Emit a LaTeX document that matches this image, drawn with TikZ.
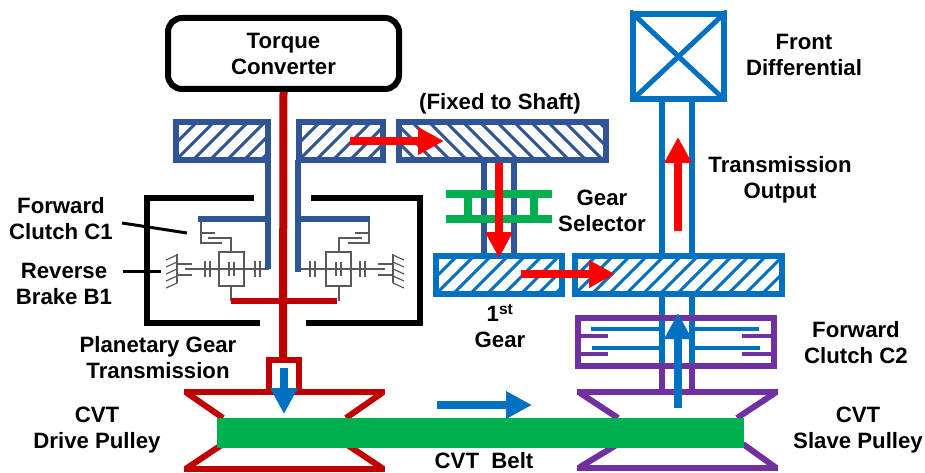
\documentclass[tikz,border=0pt]{standalone}
\usepackage{fontspec}
\setmainfont{Liberation Sans}
\usetikzlibrary{arrows.meta}
\definecolor{dkblue}{HTML}{2F5597}
\definecolor{ltblue}{HTML}{0070C0}
\definecolor{dkred}{HTML}{C00000}
\definecolor{belt}{HTML}{00B050}
\definecolor{purp}{HTML}{7030A0}
\definecolor{mechgray}{HTML}{595959}
\tikzset{
  x=1pt,y=-1pt,
  lab/.style={font=\fontsize{22.2}{26}\selectfont\bfseries,align=center,inner sep=0pt,text=black},
  lab one/.style={font=\fontsize{22.2}{26}\selectfont\bfseries,inner sep=0pt,text=black},
  thick line/.style={line width=6pt},
  bigarrow/.style={line width=8.5pt,-{Triangle[length=26pt,width=26pt]}},
  mech/.style={draw=mechgray,line width=1.6pt},
  pulley/.style={line width=6pt},
}
% x1 y1 x2 y2 colour direction(+1 rising right, -1 falling right)
\newcommand{\gearbox}[6]{%
  \begin{scope}
    \clip (#1,#2) rectangle (#3,#4);
    \foreach \k in {-4,...,14}{
      \draw[#5,line width=3pt] ({#1+\k*17},#4) -- ++({#6*(#4-#2)*1.0},{-(#4-#2)});
    }
  \end{scope}
  \draw[#5,thick line] (#1,#2) rectangle (#3,#4);
}
\newcommand{\planetary}{%
  \draw[mech] (201,219) -- (201,243) -- (222,243);
  \draw[mech] (201,233) -- (215,233);
  \draw[mech] (208,238) -- (231,238) -- (231,252);
  \draw[mech] (219,252) rectangle (244,286);
  \draw[mech] (231,286) -- (231,301);
  \draw[mech] (185,269) -- (269,269);
  \foreach \xx in {205,210,255,260}{\draw[mech] (\xx,261) -- (\xx,277);}
  \foreach \xx in {229,234}{\draw[mech] (\xx,262) -- (\xx,276);}
  \draw[mech] (177,254) -- (177,283);
  \draw[mech] (177,264) -- (192,264);
  \draw[mech] (177,275) -- (192,275);
  \foreach \yy in {255,262,269,276,283}{\draw[mech,line width=1.2pt] (177,\yy) -- (166,\yy+5);}
}
\begin{document}
\begin{tikzpicture}
\useasboundingbox (0,0) rectangle (925,473);
% pulleys
\draw[dkred,pulley] (184,392) -- (385,392);
\draw[dkred,pulley] (223,418) -- (187,393);
\draw[dkred,pulley] (346,418) -- (382,393);
\draw[dkred,pulley] (184,469) -- (385,469);
\draw[dkred,pulley] (223,444) -- (187,468);
\draw[dkred,pulley] (346,444) -- (382,468);
\draw[purp,pulley] (577,392) -- (778,392);
\draw[purp,pulley] (618,418) -- (580,393);
\draw[purp,pulley] (737,418) -- (775,393);
\draw[purp,pulley] (577,468) -- (778,468);
\draw[purp,pulley] (618,444) -- (580,467);
\draw[purp,pulley] (743,444) -- (775,467);
% torque converter
\node[draw=black,line width=6pt,rounded corners=14pt,minimum width=231pt,minimum height=71pt,lab] (tc) at (283.5,53.5) {Torque\\Converter};
% black casing
\draw[black,thick line] (254,198) -- (147,198) -- (147,323) -- (260,323);
\draw[black,thick line] (311,198) -- (420,198) -- (420,323) -- (306,323);
% planetary
\planetary
\begin{scope}[xshift=570pt,xscale=-1]
\planetary
\end{scope}
% dark blue clutch shafts
\draw[dkblue,thick line] (268,160) -- (268,269);
\draw[dkblue,thick line] (298,160) -- (298,272);
\draw[dkblue,thick line] (198,219) -- (268,219);
\draw[dkblue,thick line] (298,219) -- (370,219);
% red shaft
\coordinate (shaftend) at (283,360);
\draw[dkred,line width=8pt] (tc.south) -- (shaftend);
\draw[dkred,thick line] (231,301) -- (337,301);
\draw[dkred,thick line] (269,392) -- (269,360) -- (299,360) -- (299,392);
% gears top
\gearbox{176}{122}{268}{160}{dkblue}{1}
\gearbox{299}{122}{383}{160}{dkblue}{1}
\gearbox{399}{122}{606}{160}{dkblue}{-1}
% selector shaft
\draw[dkblue,thick line] (484,163) -- (484,253);
\draw[dkblue,thick line] (514,163) -- (514,253);
% green selector
\draw[belt,line width=8pt] (446,194) -- (552,194);
\draw[belt,line width=8pt] (446,219) -- (552,219);
\draw[belt,line width=8.5pt] (468,194) -- (468,219);
\draw[belt,line width=8.5pt] (534,194) -- (534,219);
% output shaft
\draw[ltblue,thick line] (662,99) -- (662,253);
\draw[ltblue,thick line] (692,99) -- (692,253);
\draw[ltblue,thick line] (662,297) -- (662,363);
\draw[ltblue,thick line] (692,297) -- (692,363);
% lower gears
\gearbox{436}{256}{562}{294}{ltblue}{1}
\gearbox{575}{256}{782}{294}{ltblue}{1}
% front differential
\node[draw=ltblue,line width=6pt,minimum width=91pt,minimum height=85pt,inner sep=0pt] (fd) at (678.5,56.5) {};
\begin{scope}
\clip (fd.north west) rectangle (fd.south east);
\draw[ltblue,line width=5pt] (fd.north west) -- (fd.south east);
\draw[ltblue,line width=5pt] (fd.north east) -- (fd.south west);
\end{scope}
% clutch C2
\draw[ltblue,line width=4pt] (591,329) -- (662,329);
\draw[ltblue,line width=4pt] (592,348) -- (662,348);
\draw[ltblue,line width=4pt] (692,329) -- (759,329);
\draw[ltblue,line width=4pt] (692,348) -- (760,348);
\draw[purp,line width=4pt] (578,336) -- (608,336);
\draw[purp,line width=4pt] (578,354) -- (608,354);
\draw[purp,line width=4pt] (742,336) -- (774,336);
\draw[purp,line width=4pt] (742,354) -- (774,354);
\draw[purp,thick line] (578,318) rectangle (774,366);
\draw[purp,thick line] (662,366) -- (662,392);
\draw[purp,thick line] (692,366) -- (692,392);
% belt
\node[fill=belt,minimum width=527pt,minimum height=30pt,inner sep=0pt] (beltbar) at (480.5,432.5) {};
% arrows
\draw[bigarrow,red] (350,141) -- (444,141);
\draw[bigarrow,red] (499,163) -- (499,258);
\draw[bigarrow,red] (521,274) -- (615,274);
\draw[bigarrow,red] (678,231) -- (678,137);
\draw[bigarrow,ltblue] (678,408) -- (678,313);
\draw[bigarrow,ltblue] (284,368) -- (284,414);
\draw[bigarrow,ltblue] (437,405) -- (532,405);
% labels
\node[lab one] (fixed) at (500,104) {(Fixed to Shaft)};
\node[lab] (frontd) at (804,55) {Front\\Differential};
\node[lab] (trans) at (780,180) {Transmission\\Output};
\node[lab] (fc1) at (61,219) {Forward\\Clutch C1};
\node[lab] (rb1) at (64,284) {Reverse\\Brake B1};
\node[lab] (gs) at (602,211) {Gear\\Selector};
\node[lab] (first) at (500,326) {1\textsuperscript{st}\\Gear};
\node[lab] (pgt) at (158,358) {Planetary Gear\\Transmission};
\node[lab] (cvtd) at (97,430) {CVT\\Drive Pulley};
\node[lab] (cvts) at (858,430) {CVT\\Slave Pulley};
\node[lab] (fc2) at (856,343) {Forward\\Clutch C2};
\node[lab one] (cvtb) at (484,461) {CVT\ \ Belt};
% leaders
\coordinate (l1a) at (122,223);
\coordinate (l1b) at (187,233);
\coordinate (l2a) at (123,271);
\coordinate (l2b) at (161,271);
\draw[black,line width=3pt] (l1a) -- (l1b);
\draw[black,line width=3pt] (l2a) -- (l2b);
\end{tikzpicture}
\end{document}
